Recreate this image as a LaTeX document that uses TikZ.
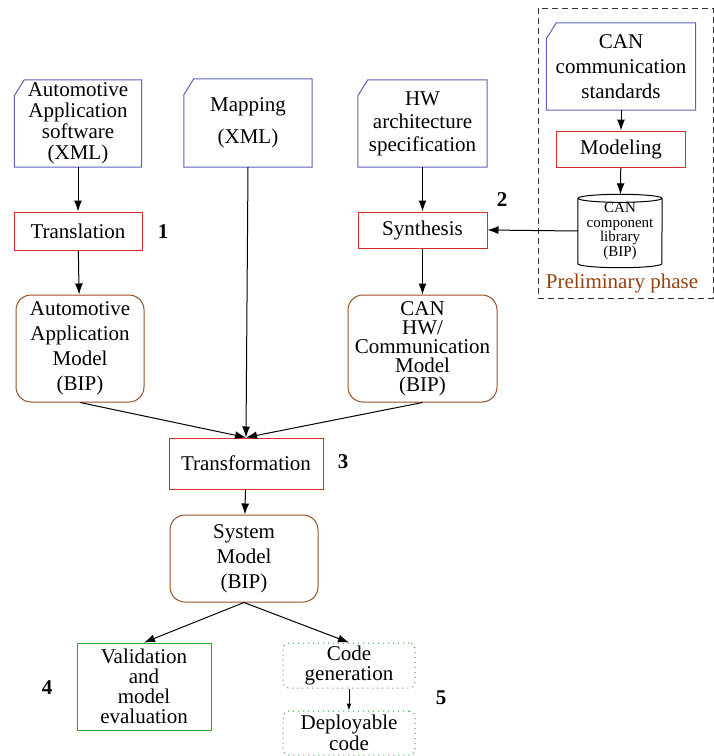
\documentclass[tikz,border=0pt]{standalone}
\usepackage{fontspec}
\setmainfont{Liberation Serif}
\usetikzlibrary{arrows.meta, positioning, calc}
\definecolor{docBlue}{RGB}{95,95,185}
\definecolor{stepRed}{RGB}{220,45,45}
\definecolor{modelBrown}{RGB}{150,80,40}
\definecolor{evalGreen}{RGB}{45,165,45}
\definecolor{phaseBrown}{RGB}{150,65,15}
\tikzset{
    baseText/.style={align=center, inner sep=0pt, font=\fontsize{21}{23}\selectfont},
    docNode/.style={baseText, draw=none},
    docLine/.style={draw=docBlue, line width=1pt},
    stepBox/.style={baseText, draw=stepRed, line width=1pt},
    modelBox/.style={baseText, draw=modelBrown, line width=1pt, rounded corners=15pt},
    evalBox/.style={baseText, draw=evalGreen, line width=1pt},
    codeBox/.style={baseText, draw=evalGreen, line width=1pt, dash pattern=on 1pt off 4pt, rounded corners=6pt},
    libNode/.style={align=center, inner sep=0pt, font=\fontsize{15}{14.5}\selectfont},
    libLine/.style={line width=1pt},
    stepNum/.style={font=\fontsize{21}{23}\selectfont\bfseries},
    flowArrow/.style={-{Latex[length=11pt, width=8pt]}, line width=1pt}
}

\begin{document}
\begin{tikzpicture}[x=1pt, y=1pt]
    \useasboundingbox (0,0) rectangle (714,-756);

    % Preliminary phase frame
    \draw[line width=1pt, dash pattern=on 6pt off 4pt, black!80] (538,-8) rectangle (713,-298);
    \node[font=\fontsize{21}{23}\selectfont, text=phaseBrown] (prelim) at (622,-283) {Preliminary phase};

    % Input documents
    \node[docNode, minimum width=127, minimum height=87, font=\fontsize{21}{21}\selectfont] (aasDoc) at (78,-123.5)
        {Automotive\\Application\\software\\(XML)};
    \node[docNode, minimum width=128, minimum height=88] (mapDoc) at (248,-123)
        {Mapping\\[9pt](XML)};
    \node[docNode, minimum width=129, minimum height=87] (hwDoc) at (422.5,-123.5)
        {HW\\architecture\\specification};
    \node[docNode, minimum width=149, minimum height=87, font=\fontsize{21}{25}\selectfont] (canDoc) at (621,-66.5)
        {CAN\\communication\\standards};
    \foreach \n in {aasDoc,mapDoc,hwDoc,canDoc} {
        \draw[docLine] ($(\n.north west)+(0,-16)$) -- ($(\n.north west)+(10,0)$) -- (\n.north east)
            -- (\n.south east) -- (\n.south west) -- cycle;
    }

    % Steps
    \node[stepBox, minimum width=128, minimum height=38] (translation) at (78,-231) {Translation};
    \node[stepBox, minimum width=129, minimum height=36] (synthesis) at (422.5,-230) {Synthesis};
    \node[stepBox, minimum width=129, minimum height=36] (modeling) at (621,-149) {Modeling};
    \node[stepBox, minimum width=154, minimum height=51] (transformation) at (246,-463.5) {Transformation};

    % Component library (cylinder)
    \node[libNode, minimum width=84, minimum height=73] (canLib) at (620,-231)
        {CAN\\component\\library\\(BIP)};
    \draw[libLine] ($(canLib.north west)+(0,-4)$) -- ($(canLib.south west)+(0,4)$)
        arc[start angle=180, end angle=360, x radius=42, y radius=4] -- ($(canLib.north east)+(0,-4)$);
    \draw[libLine] ($(canLib.north)+(0,-4)$) ellipse[x radius=42, y radius=4];

    % Models
    \node[modelBox, minimum width=128, minimum height=107, font=\fontsize{21}{25}\selectfont] (aam) at (80,-348.5)
        {Automotive\\Application\\Model\\(BIP)};
    \node[modelBox, minimum width=149, minimum height=107, font=\fontsize{21}{19}\selectfont] (canHw) at (422.5,-348.5)
        {CAN\\HW/\\Communication\\Model\\(BIP)};
    \node[modelBox, minimum width=148, minimum height=87, font=\fontsize{21}{25}\selectfont] (sysModel) at (244,-558.5)
        {System\\Model\\(BIP)};

    % Outputs
    \node[evalBox, minimum width=134, minimum height=87, font=\fontsize{21}{20}\selectfont] (validation) at (144,-686.5)
        {Validation\\and\\model\\evaluation};
    \node[codeBox, minimum width=132, minimum height=45, font=\fontsize{21}{20}\selectfont] (codeGen) at (349,-665.5)
        {Code\\generation};
    \node[codeBox, minimum width=132, minimum height=44, font=\fontsize{21}{21}\selectfont] (deploy) at (349,-733)
        {Deployable\\code};

    % Step numbers
    \node[stepNum] (num1) at (163,-232) {1};
    \node[stepNum] (num2) at (502,-200) {2};
    \node[stepNum] (num3) at (343,-462) {3};
    \node[stepNum] (num4) at (47,-688) {4};
    \node[stepNum] (num5) at (441,-698) {5};

    % Flow
    \draw[flowArrow] (aasDoc) -- (translation);
    \draw[flowArrow] (translation) -- (aam);
    \draw[flowArrow] (hwDoc) -- (synthesis);
    \draw[flowArrow] (synthesis) -- (canHw);
    \draw[flowArrow] (canDoc) -- (modeling);
    \draw[flowArrow] (modeling) -- (canLib);
    \draw[flowArrow] (canLib.west) -- (synthesis.east);
    \draw[flowArrow] (mapDoc.south) -- (transformation.north);
    \draw[flowArrow] (aam.south) -- (transformation.north);
    \draw[flowArrow] (canHw.south) -- (transformation.north);
    \draw[flowArrow] (transformation) -- (sysModel);
    \draw[flowArrow] (sysModel.south) -- (validation.north);
    \draw[flowArrow] (sysModel.south) -- (codeGen.north);
    \draw[-{Latex[length=7pt, width=5pt]}, line width=1pt] (codeGen) -- (deploy);

\end{tikzpicture}
\end{document}
